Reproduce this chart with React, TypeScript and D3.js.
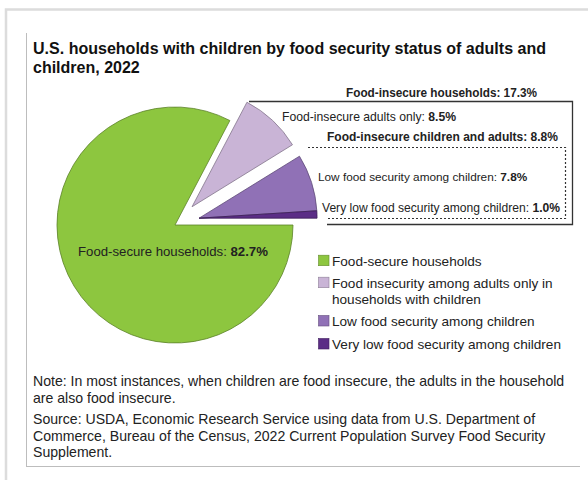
import React from "react";
import * as d3 from "d3";

const categories = [
  "Food-secure households",
  "Food insecurity among adults only in households with children",
  "Low food security among children",
  "Very low food security among children",
];
const legendLines = [
  ["Food-secure households"],
  ["Food insecurity among adults only in", "households with children"],
  ["Low food security among children"],
  ["Very low food security among children"],
];
const sliceLabels = [
  "Food-secure households: ",
  "Food-insecure adults only: ",
  "Low food security among children: ",
  "Very low food security among children: ",
];
const values = [82.7, 8.5, 7.8, 1.0];
const groups = ["secure", "adults", "children", "children"];
const colors = ["#8dc63f", "#c9b4d6", "#9071b6", "#5b2d86"];

const titleLines = [
  "U.S. households with children by food security status of adults and",
  "children, 2022",
];
const noteLines = [
  "Note: In most instances, when children are food insecure, the adults in the household",
  "are also food insecure.",
];
const sourceLines = [
  "Source: USDA, Economic Research Service using data from U.S. Department of",
  "Commerce, Bureau of the Census, 2022 Current Population Survey Food Security",
  "Supplement.",
];

const W = 588;
const H = 480;
const FONT = "'Liberation Sans', Arial, sans-serif";
const TXT = "#222";

const fmt = (v: number) => `${v.toFixed(1)}%`;

export default function App() {
  const cx = 175;
  const cy = 225;
  const r = 118;
  const explode = 25;

  const pie = d3
    .pie<number>()
    .sort(null)
    .value((d) => d)
    .startAngle(Math.PI / 2)
    .endAngle(Math.PI / 2 + 2 * Math.PI);
  const arcs = pie(values);
  const arc = d3.arc<d3.PieArcDatum<number>>().innerRadius(0).outerRadius(r);

  const groupMid: Record<string, number> = {};
  const gs = Array.from(new Set(groups));
  gs.forEach((g) => {
    const ga = arcs.filter((_, i) => groups[i] === g);
    const s = d3.min(ga, (a) => a.startAngle)!;
    const e = d3.max(ga, (a) => a.endAngle)!;
    groupMid[g] = (s + e) / 2;
  });

  const insecureTotal = d3.sum(values.slice(1));
  const childTotal = d3.sum(values.filter((_, i) => groups[i] === "children"));

  const LS = 12; // label font size

  return (
    <svg
      width={W}
      height={H}
      viewBox={`0 0 ${W} ${H}`}
      style={{ position: "absolute", left: 0, top: 0, display: "block", background: "#fff" }}
      fontFamily={FONT}
    >
      {/* outer frame */}
      <rect x={6} y={9.5} width={W + 10} height={H + 10} fill="none" stroke="#dcdcdc" strokeWidth={2.5} />
      {/* inner frame lines */}
      <line x1={26.5} y1={33} x2={26.5} y2={467} stroke="#bdbdbd" strokeWidth={1} />
      <line x1={26.5} y1={466.5} x2={580} y2={466.5} stroke="#bdbdbd" strokeWidth={1} />

      {/* title */}
      <text x={33} y={54} fontSize={16} fontWeight="bold" fill="#111" textLength={513} lengthAdjust="spacingAndGlyphs">
        {titleLines[0]}
      </text>
      <text x={33} y={72.5} fontSize={16} fontWeight="bold" fill="#111">
        {titleLines[1]}
      </text>

      {/* pie */}
      <g transform={`translate(${cx},${cy})`}>
        {arcs.map((a, i) => {
          const g = groups[i];
          const off = g === "secure" ? 0 : explode;
          const m = groupMid[g];
          const dx = off * Math.sin(m);
          const dy = -off * Math.cos(m);
          return (
            <path
              key={i}
              d={arc(a) || ""}
              transform={`translate(${dx},${dy})`}
              fill={colors[i]}
              stroke={d3.color(colors[i])!.darker(1.2).formatHex()}
              strokeWidth={0.8}
              strokeLinejoin="round"
            />
          );
        })}
      </g>

      {/* green label */}
      <text x={78} y={256} fontSize={13.2} fill={TXT}>
        {sliceLabels[0]}
        <tspan fontWeight="bold">{fmt(values[0])}</tspan>
      </text>

      {/* food-insecure boxes */}
      <polyline points="249,101.5 572.5,101.5 572.5,224.5 327,224.5" fill="none" stroke="#333" strokeWidth={1.3} />
      <polyline
        points="308,147.5 565.5,147.5 565.5,218.5 327,218.5"
        fill="none"
        stroke="#333"
        strokeWidth={1.2}
        strokeDasharray="2,2"
      />
      <text x={346} y={97} fontSize={LS} fontWeight="bold" fill={TXT} textLength={191} lengthAdjust="spacingAndGlyphs">
        {`Food-insecure households: ${fmt(insecureTotal)}`}
      </text>
      <text x={282} y={121} fontSize={12.2} fill={TXT}>
        {sliceLabels[1]}
        <tspan fontWeight="bold">{fmt(values[1])}</tspan>
      </text>
      <text x={327} y={141} fontSize={LS} fontWeight="bold" fill={TXT} textLength={231} lengthAdjust="spacingAndGlyphs">
        {`Food-insecure children and adults: ${fmt(childTotal)}`}
      </text>
      <text x={318} y={181} fontSize={11.8} fill={TXT}>
        {sliceLabels[2]}
        <tspan fontWeight="bold">{fmt(values[2])}</tspan>
      </text>
      <text x={322} y={212} fontSize={12.1} fill={TXT}>
        {sliceLabels[3]}
        <tspan fontWeight="bold">{fmt(values[3])}</tspan>
      </text>

      {/* legend */}
      {(() => {
        const rowY = [260.7, 282.7, 321, 344];
        return categories.map((c, i) => (
          <g key={c}>
            <rect
              x={318.5}
              y={rowY[i] - 5.5}
              width={10.5}
              height={10.5}
              fill={colors[i]}
              stroke={d3.color(colors[i])!.darker(1).formatHex()}
              strokeWidth={0.6}
            />
            {legendLines[i].map((l, j) => (
              <text key={j} x={332} y={rowY[i] + 4.8 + j * 16.5} fontSize={13.6} fill={TXT}>
                {l}
              </text>
            ))}
          </g>
        ));
      })()}

      {/* notes */}
      {noteLines.map((t, i) => (
        <text key={"n" + i} x={33} y={386 + i * 16.5} fontSize={14.1} fill={TXT}>
          {t}
        </text>
      ))}
      {sourceLines.map((t, i) => (
        <text key={"s" + i} x={33} y={424 + i * 16.5} fontSize={14.1} fill={TXT}>
          {t}
        </text>
      ))}
    </svg>
  );
}
